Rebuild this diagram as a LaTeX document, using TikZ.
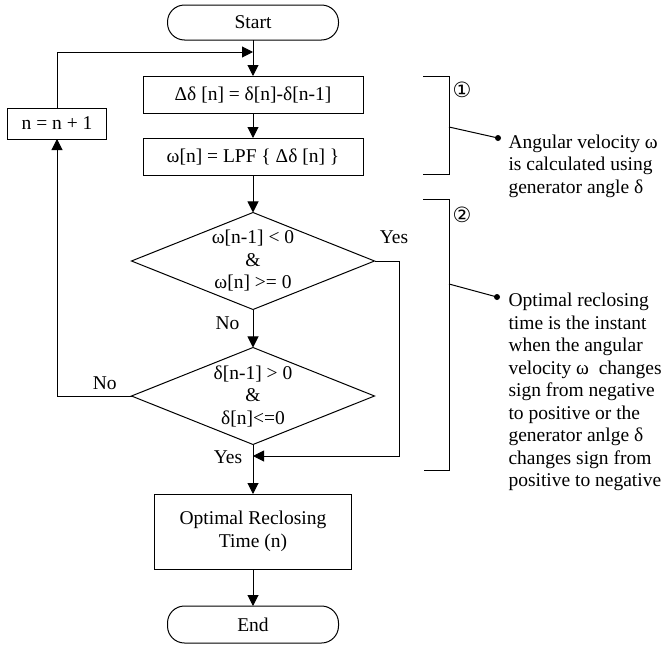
\documentclass[tikz,border=0pt]{standalone}
\usepackage{fontspec}
\setmainfont{Liberation Serif}
\newfontfamily\symfont{DejaVu Sans}
\usetikzlibrary{shapes.geometric,arrows.meta}
\begin{document}
\begin{tikzpicture}[x=1pt,y=-1pt,line width=1pt,
  font=\fontsize{19.5}{22.5}\selectfont,
  box/.style={draw,rectangle,inner sep=0pt,outer sep=0pt,align=center},
  term/.style={draw,rectangle,rounded corners=17pt,inner sep=0pt,outer sep=0pt,minimum width=171pt},
  dia/.style={draw,diamond,inner sep=0pt,outer sep=0pt,minimum width=243pt,minimum height=97pt},
  arr/.style={-{Triangle[length=11pt,width=11pt]}},
  lbl/.style={inner sep=0pt},
  note/.style={inner sep=0pt,align=left,anchor=west},
  circnum/.style={inner sep=0pt,font=\symfont\fontsize{21}{21}\selectfont}]
\useasboundingbox (0,0) rectangle (662,648);
% nodes
\node[term,minimum height=35pt] (start) at (253,22.5) {Start};
\node[box,minimum width=220pt,minimum height=37pt] (b1) at (253,94.5) {Δδ [n] = δ[n]-δ[n-1]};
\node[box,minimum width=220pt,minimum height=37pt] (b2) at (253,156.5) {ω[n] = LPF \{ Δδ [n] \}};
\node[box,minimum width=99pt,minimum height=31pt] (inc) at (57,123.5) {n = n + 1};
\node[dia] (d1) at (253,261) {};
\node[lbl,align=center] (t1) at (d1) {ω[n-1] < 0\\\&\\ω[n] >= 0};
\node[dia] (d2) at (253,396) {};
\node[lbl,align=center] (t2) at (d2) {δ[n-1] > 0\\\&\\δ[n]<=0};
\node[box,minimum width=197pt,minimum height=75pt] (b3) at (253,531.5) {Optimal Reclosing\\Time (n)};
\node[term,minimum height=37pt] (end) at (253,624.5) {End};
\coordinate (j1) at (253,52);
\coordinate (j2) at (253,456);
% connectors
\draw[arr] (start) -- (b1);
\draw[arr] (b1) -- (b2);
\draw[arr] (b2) -- (d1);
\draw[arr] (d1) -- node[lbl,pos=0.35,anchor=east,xshift=-13pt] {No} (d2);
\draw[arr] (d2.west) -| node[lbl,pos=0.18,anchor=south,yshift=6pt] {No} (inc.south);
\draw[arr] (inc.north) |- (j1);
\draw[arr] (d1.east) -- ++(25,0) |- (j2);
\node[lbl] (yes1) at (394,237) {Yes};
\node[lbl] (yes2) at (228,457) {Yes};
\draw[arr] (d2) -- (b3);
\draw[arr] (b3) -- (end);
% brackets
\draw (423,76) -- (449,76) -- (449,174) -- (423,174);
\draw (423,199) -- (449,199) -- (449,470) -- (424,470);
\node[circnum] (c1) at (462,90) {①};
\node[circnum] (c2) at (462,215) {②};
% callouts
\coordinate (k1) at (449,127);
\coordinate (p1) at (498,138);
\draw (k1) -- (p1);
\fill (p1) circle (3pt);
\node[note] (n1) at (508,166) {Angular velocity ω\\is calculated using\\generator angle δ};
\coordinate (k2) at (449,284);
\coordinate (p2) at (497,297);
\draw (k2) -- (p2);
\fill (p2) circle (3pt);
\node[note] (n2) at (508,392) {Optimal reclosing\\time is the instant\\when the angular\\velocity ω\ \ changes\\sign from negative\\to positive or the\\generator anlge δ\\changes sign from\\positive to negative};
\end{tikzpicture}
\end{document}
